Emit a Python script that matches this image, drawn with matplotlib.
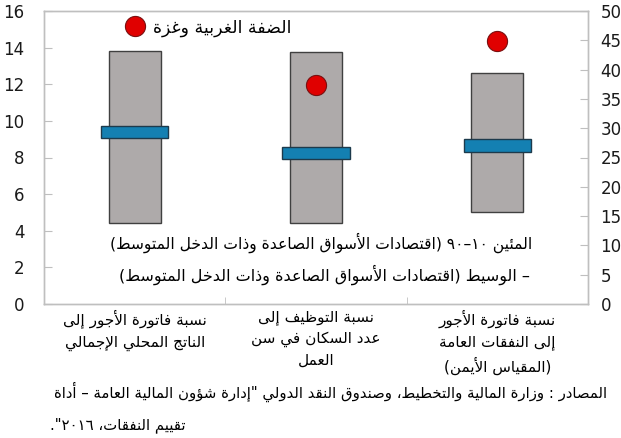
import re
import matplotlib
matplotlib.use('Agg')
import matplotlib.pyplot as plt
from matplotlib.lines import Line2D

# ---- data ----
categories = ['نسبة فاتورة الأجور إلى\nالناتج المحلي الإجمالي',
              'نسبة التوظيف إلى\nعدد السكان في سن\nالعمل',
              'نسبة فاتورة الأجور\nإلى النفقات العامة\n(المقياس الأيمن)']
p10 = [4.4, 4.4, 15.7]       # 10th percentile (third on right axis)
p90 = [13.8, 13.75, 39.4]    # 90th percentile
median = [9.4, 8.25, 27.1]
wbg = [None, 11.95, 44.9]    # West Bank and Gaza
left_ticks = list(range(0, 17, 2))
right_ticks = list(range(0, 51, 5))

label_wbg = 'الضفة الغربية وغزة'
label_range = 'المئين ١٠–٩٠ (اقتصادات الأسواق الصاعدة وذات الدخل المتوسط)'
label_median = '– الوسيط (اقتصادات الأسواق الصاعدة وذات الدخل المتوسط)'
source_1 = 'المصادر : وزارة المالية والتخطيط، وصندوق النقد الدولي "إدارة شؤون المالية العامة – أداة'
source_2 = 'تقييم النفقات، ٢٠١٦".'

# ---- tiny arabic shaper, matplotlib does no text shaping ----
# letters in unicode order with their presentation-form counts
letters = 'ءآأؤإئابةتثجحخدذرزسشصضطظعغفقكلمنهوىي'
right_only = 'آأؤإاةدذرزوى'
FORMS = {}
code = 0xFE80
for ch in letters:
    n = 1 if ch == 'ء' else (2 if ch in right_only else 4)
    FORMS[ch] = (code, n)
    code += n
LAM_ALEF = {'آ': 0xFEF5, 'أ': 0xFEF7, 'إ': 0xFEF9, 'ا': 0xFEFB}


def shape(text):
    out = []
    i = 0
    while i < len(text):
        c = text[i]
        if c not in FORMS:
            out.append(c)
            i += 1
            continue
        prev = text[i - 1] if i > 0 else ''
        linked_prev = prev in FORMS and FORMS[prev][1] == 4
        nxt = text[i + 1] if i + 1 < len(text) else ''
        if c == 'ل' and nxt in LAM_ALEF:
            out.append(chr(LAM_ALEF[nxt] + linked_prev))
            i += 2
            continue
        base, n = FORMS[c]
        linked_next = n == 4 and nxt in FORMS and FORMS[nxt][1] > 1
        if n == 4:
            off = [0, 2, 1, 3][linked_prev * 2 + linked_next]
        elif n == 2:
            off = 1 if linked_prev else 0
        else:
            off = 0
        out.append(chr(base + off))
        i += 1
    return ''.join(out)


def rtl(text):
    lines = []
    for line in text.split('\n'):
        s = shape(line)[::-1]
        s = s.translate(str.maketrans('()', ')('))
        s = re.sub(r'[0-9\u0660-\u0669]+', lambda m: m.group()[::-1], s)
        lines.append(s)
    return '\n'.join(lines)


# ---- drawing ----
plt.rcParams['font.family'] = 'DejaVu Sans'
fig = plt.figure(figsize=(6.21, 4.38), dpi=100)
ax = fig.add_axes([44 / 621, 1 - 304 / 438, 544 / 621, 293 / 438])
ax2 = ax.twinx()

box_col = '#aeaaaa'
box_edge = '#404040'
med_col = '#1480b2'
med_edge = '#1d3a4c'
dot_col = '#e00000'
dot_edge = '#7a1010'

x = [0, 1, 2]
for i in x:
    a = ax if i < 2 else ax2
    thick = 0.69 if i < 2 else 0.69 * 50 / 16
    a.bar(i, p90[i] - p10[i], bottom=p10[i], width=0.285, color=box_col,
          edgecolor=box_edge, linewidth=1, zorder=2)
    a.bar(i, thick, bottom=median[i] - thick / 2, width=0.37, color=med_col,
          edgecolor=med_edge, linewidth=1, zorder=3)
    if wbg[i] is not None:
        a.plot(i, wbg[i], 'o', ms=14.5, color=dot_col, mec=dot_edge, mew=0.8, zorder=4)

ax.set_xlim(-0.5, 2.5)
ax.set_ylim(0, 16)
ax2.set_ylim(0, 50)
ax.set_yticks(left_ticks)
ax2.set_yticks(right_ticks)
ax.set_xticks(x)
ax.set_xticklabels([rtl(c) for c in categories], fontsize=11, linespacing=1.5,
                   va='top')
ax.set_xticks([0.5, 1.5], minor=True)
ax.tick_params(axis='x', which='major', length=0, pad=4)
ax.tick_params(axis='x', which='minor', direction='in', length=5, color='#bfbfbf')
ax.tick_params(axis='y', direction='in', length=6, color='#bfbfbf', labelsize=12,
               pad=14, labelcolor='#1a1a1a')
ax2.tick_params(axis='y', direction='in', length=6, color='#bfbfbf', labelsize=12,
                pad=9, labelcolor='#1a1a1a')
for a in (ax, ax2):
    for sp in a.spines.values():
        sp.set_color('#bfbfbf')
        sp.set_linewidth(1)

# legend-like texts
h = Line2D([], [], marker='o', ls='', ms=14.5, color=dot_col, mec=dot_edge, mew=0.8)
ax2.legend([h], [rtl(label_wbg)], loc='center left', bbox_to_anchor=(0.152, 0.943),
           frameon=False, fontsize=12.5, handlelength=1.0, handletextpad=0.5,
           borderpad=0, borderaxespad=0)
ax2.text(0.897, 0.208, rtl(label_range), transform=ax.transAxes, ha='right',
         va='center', fontsize=11.2)
ax2.text(0.893, 0.099, rtl(label_median), transform=ax.transAxes, ha='right',
         va='center', fontsize=11.5)

fig.text(607 / 621, 1 - 392 / 438, rtl(source_1), ha='right', va='center', fontsize=10.7)
fig.text(50 / 621, 1 - 425 / 438, rtl(source_2), ha='left', va='center', fontsize=10.7)

fig.savefig('out.png', dpi=100)
